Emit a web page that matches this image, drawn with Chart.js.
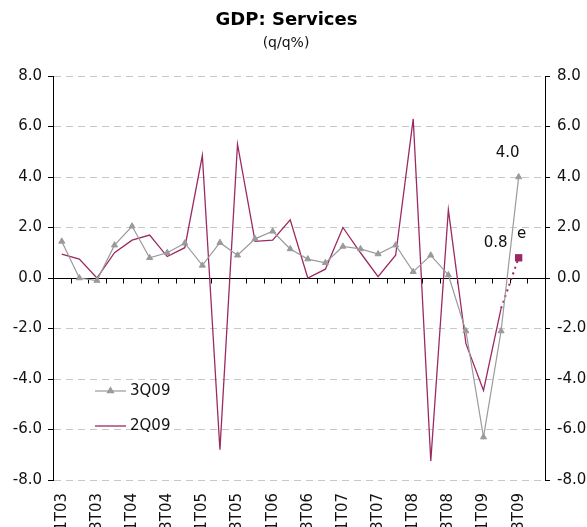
<!DOCTYPE html>
<html>
<head>
<meta charset="utf-8">
<script src="https://cdn.jsdelivr.net/npm/chart.js@4"></script>
<style>
    html, body { margin: 0; padding: 0; background: #fff; }
    #wrap { width: 587px; height: 527px; }
</style>
</head>
<body>
<div id="wrap"><canvas id="chart"></canvas></div>
<script>
// --- DATA ---
const titleText = 'GDP: Services';
const subtitleText = '(q/q%)';
const quarters = [
    '1T03', '2T03', '3T03', '4T03', '1T04', '2T04', '3T04', '4T04',
    '1T05', '2T05', '3T05', '4T05', '1T06', '2T06', '3T06', '4T06',
    '1T07', '2T07', '3T07', '4T07', '1T08', '2T08', '3T08', '4T08',
    '1T09', '2T09', '3T09', '4T09'
];
const series3Q09 = [1.45, 0.0, -0.1, 1.3, 2.05, 0.8, 1.0, 1.38, 0.5, 1.4, 0.9, 1.55, 1.85, 1.15,
    0.75, 0.6, 1.25, 1.15, 0.95, 1.3, 0.25, 0.9, 0.12, -2.1, -6.3, -2.1, 4.0, null];
const series2Q09 = [0.95, 0.75, 0.0, 1.0, 1.5, 1.7, 0.85, 1.2, 4.85, -6.8, 5.3, 1.45, 1.5, 2.3,
    0.0, 0.35, 2.0, 1.0, 0.05, 0.9, 6.3, -7.25, 2.7, -2.6, -4.45, -1.2, null, null];
// estimate for 3T09 (dotted link from the last 2Q09 value)
const estimate2Q09 = [null, null, null, null, null, null, null, null, null, null, null, null, null, null,
    null, null, null, null, null, null, null, null, null, null, null, -1.2, 0.8, null];
const estimateIndex = 26;
const yTicks = { min: -8, max: 8, step: 2 };

const GRAY = '#9a9a9a';
const MAGENTA = '#9b2a62';

Chart.defaults.font.family = 'DejaVu Sans';
Chart.defaults.font.size = 15;
Chart.defaults.color = '#111';

// title + subtitle, centred a little left of the canvas middle like the original
const titles = {
    id: 'titles',
    afterDraw(chart) {
        const { ctx } = chart;
        ctx.save();
        ctx.fillStyle = '#000';
        ctx.textAlign = 'center';
        ctx.textBaseline = 'middle';
        ctx.font = 'bold 18px "DejaVu Sans"';
        ctx.fillText(titleText, 286.5, 20.5);
        ctx.font = '14px "DejaVu Sans"';
        ctx.fillStyle = '#111';
        ctx.fillText(subtitleText, 286, 43.5);
        ctx.restore();
    }
};

// horizontal axis crossing at 0, with small ticks between quarters
const zeroAxis = {
    id: 'zeroAxis',
    beforeDatasetsDraw(chart) {
        const { ctx, chartArea, scales: { x, y } } = chart;
        const y0 = Math.round(y.getPixelForValue(0)) + 0.5;
        ctx.save();
        ctx.strokeStyle = '#000';
        ctx.lineWidth = 1;
        ctx.beginPath();
        ctx.moveTo(chartArea.left, y0);
        ctx.lineTo(chartArea.right, y0);
        for (let i = 0; i <= quarters.length; i++) {
            const px = Math.round(x.getPixelForValue(i - 0.5)) + 0.5;
            ctx.moveTo(px, y0);
            ctx.lineTo(px, y0 + 5);
        }
        ctx.stroke();
        ctx.restore();
    }
};

// legend drawn inside the plot, bottom-left
const innerLegend = {
    id: 'innerLegend',
    afterDatasetsDraw(chart) {
        const { ctx, chartArea } = chart;
        const x0 = chartArea.left + 42, x1 = chartArea.left + 73;
        [0, 1].forEach((di, i) => {
            const ds = chart.data.datasets[di];
            const y = chartArea.top + 315 + i * 35;
            ctx.save();
            ctx.strokeStyle = ds.borderColor;
            ctx.lineWidth = ds.borderWidth;
            ctx.beginPath();
            ctx.moveTo(x0, y);
            ctx.lineTo(x1, y);
            ctx.stroke();
            if (ds.pointStyle === 'triangle') {
                ctx.fillStyle = ds.backgroundColor;
                Chart.helpers.drawPoint(ctx, { pointStyle: 'triangle', radius: ds.pointRadius, borderWidth: 1 }, (x0 + x1) / 2, y);
                ctx.fill();
            }
            ctx.fillStyle = '#111';
            ctx.font = '15px "DejaVu Sans"';
            ctx.textBaseline = 'middle';
            ctx.textAlign = 'left';
            ctx.fillText(ds.label, x1 + 4, y);
            ctx.restore();
        });
    }
};

// value labels next to the last points
const pointLabels = {
    id: 'pointLabels',
    afterDatasetsDraw(chart) {
        const { ctx } = chart;
        const p3 = chart.getDatasetMeta(0).data[estimateIndex];
        const pe = chart.getDatasetMeta(2).data[estimateIndex];
        ctx.save();
        ctx.fillStyle = '#111';
        ctx.font = '15px "DejaVu Sans"';
        ctx.textAlign = 'center';
        ctx.textBaseline = 'middle';
        ctx.fillText(series3Q09[estimateIndex].toFixed(1), p3.x - 11, p3.y - 24);
        ctx.fillText(estimate2Q09[estimateIndex].toFixed(1), pe.x - 23, pe.y - 15);
        ctx.fillText('e', pe.x + 3, pe.y - 24);
        ctx.restore();
    }
};

const fmt = v => Number(v).toFixed(1);

new Chart(document.getElementById('chart'), {
    type: 'line',
    data: {
        labels: quarters,
        datasets: [
            {
                label: '3Q09', data: series3Q09, borderColor: GRAY, backgroundColor: GRAY,
                borderWidth: 1.2, pointStyle: 'triangle', pointRadius: 3.5, pointBorderWidth: 1,
                tension: 0, order: 0
            },
            {
                label: '2Q09', data: series2Q09, borderColor: MAGENTA, backgroundColor: MAGENTA,
                borderWidth: 1.3, pointRadius: 0, tension: 0, order: 1
            },
            {
                label: '2Q09e', data: estimate2Q09, borderColor: MAGENTA, backgroundColor: MAGENTA,
                borderWidth: 2, borderDash: [2, 4], pointStyle: 'rect', pointBorderWidth: 0,
                pointRadius: ctx => ctx.dataIndex === estimateIndex ? 5.2 : 0, tension: 0, order: 2
            }
        ]
    },
    options: {
        responsive: true,
        maintainAspectRatio: false,
        animation: false,
        layout: { padding: { left: 0, right: 0, top: 76, bottom: 0 } },
        plugins: {
            legend: { display: false },
            tooltip: { enabled: false }
        },
        scales: {
            x: {
                type: 'category', position: 'bottom', offset: true,
                grid: { display: false, drawTicks: false },
                border: { display: false },
                ticks: {
                    autoSkip: false, minRotation: 90, maxRotation: 90, padding: 13,
                    callback(v, i) { return i % 2 === 0 ? this.getLabelForValue(v) : ''; }
                },
                afterFit(s) { s.height = 47; }
            },
            y: {
                position: 'left', min: yTicks.min, max: yTicks.max,
                ticks: { stepSize: yTicks.step, padding: 6, callback: fmt },
                grid: {
                    color: ctx => (ctx.tick && ctx.tick.value === 0) ? 'rgba(0,0,0,0)' : '#c8c8c8',
                    tickColor: '#000', tickLength: 5
                },
                border: { color: '#000', dash: [7, 5] },
                afterFit(s) { s.width = 53; }
            },
            y2: {
                position: 'right', min: yTicks.min, max: yTicks.max,
                ticks: { stepSize: yTicks.step, padding: 7, callback: fmt },
                grid: { drawOnChartArea: false, tickColor: '#000', tickLength: 5 },
                border: { color: '#000' },
                afterFit(s) { s.width = 42; }
            }
        }
    },
    plugins: [zeroAxis, innerLegend, pointLabels, titles]
});
</script>
</body>
</html>
